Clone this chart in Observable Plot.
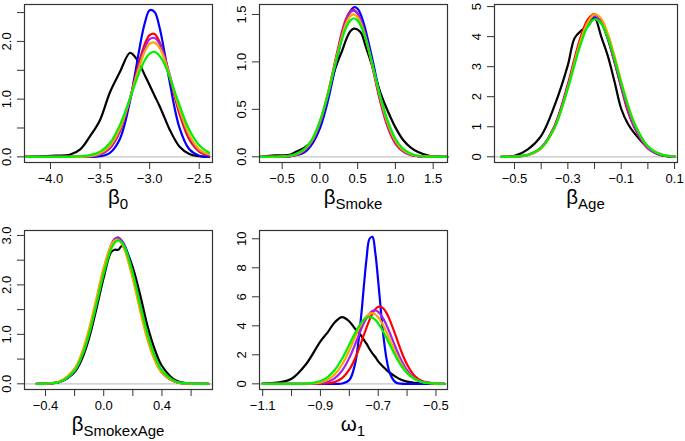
<!DOCTYPE html>
<html><head><meta charset="utf-8">
<script src="https://cdn.jsdelivr.net/npm/d3@7"></script>
<script src="https://cdn.jsdelivr.net/npm/@observablehq/plot@0.6"></script>
<style>
body{margin:0;background:#fff;}
#root{position:relative;width:685px;height:441px;overflow:hidden;background:#fff;font-family:"Liberation Sans",Arial,Helvetica,sans-serif;}
.title{position:absolute;width:220px;text-align:center;font-size:20.5px;line-height:15px;color:#000;white-space:nowrap;}
.title span{font-size:15px;position:relative;top:5px;}
</style></head><body><div id="root"></div>
<script>
// ---- series ----
const seriesNames = ["S1", "S2", "S3", "S4", "S5", "S6"];
const seriesColors = ["#000000", "#0000ff", "#ff0000", "#a020f0", "#ffa500", "#00f000"];

// ---- panel 1: beta_0 ----
const p1X      = [-4.25, -4.1, -3.95, -3.8, -3.7, -3.6, -3.5, -3.4, -3.3, -3.2, -3.15, -3.1, -3.05, -3.0, -2.95, -2.9, -2.85, -2.8, -2.7, -2.6, -2.5, -2.4];
const p1Black  = [0.00, 0.01, 0.02, 0.04, 0.13, 0.36, 0.64, 1.12, 1.47, 1.80, 1.74, 1.60, 1.42, 1.24, 1.06, 0.88, 0.68, 0.48, 0.18, 0.05, 0.01, 0.00];
const p1Blue   = [0, 0, 0, 0, 0, 0, 0.01, 0.07, 0.31, 0.95, 1.41, 1.90, 2.31, 2.54, 2.51, 2.24, 1.81, 1.32, 0.51, 0.13, 0.02, 0.00];
const p1Red    = [0, 0, 0, 0, 0, 0.01, 0.04, 0.15, 0.44, 1.00, 1.34, 1.68, 1.95, 2.11, 2.13, 1.99, 1.74, 1.41, 0.75, 0.30, 0.09, 0.02];
const p1Purple = [0, 0, 0, 0, 0, 0.01, 0.04, 0.16, 0.46, 0.99, 1.31, 1.62, 1.88, 2.04, 2.06, 1.96, 1.73, 1.44, 0.81, 0.35, 0.11, 0.03];
const p1Orange = [0, 0, 0, 0, 0, 0.01, 0.06, 0.19, 0.49, 1.00, 1.30, 1.58, 1.82, 1.96, 1.98, 1.89, 1.69, 1.42, 0.83, 0.38, 0.13, 0.04];
const p1Green  = [0, 0, 0, 0, 0.01, 0.03, 0.09, 0.24, 0.55, 1.00, 1.25, 1.48, 1.67, 1.79, 1.82, 1.75, 1.61, 1.39, 0.90, 0.47, 0.20, 0.07];
const p1XTicks = [-4, -3.5, -3, -2.5];
const p1XLabels = [-4, -3.5, -3, -2.5];
const p1YTicks = [0, 0.5, 1, 1.5, 2, 2.5];
const p1YLabels = [0, 1, 2];

// ---- panel 2: beta_Smoke ----
const p2X      = [-0.79, -0.6, -0.5, -0.4, -0.3, -0.2, -0.1, 0.0, 0.1, 0.2, 0.3, 0.35, 0.4, 0.45, 0.5, 0.55, 0.6, 0.7, 0.8, 0.9, 1.0, 1.1, 1.2, 1.3, 1.45, 1.69];
const p2Black  = [0.00, 0.015, 0.015, 0.02, 0.06, 0.10, 0.17, 0.36, 0.62, 0.92, 1.13, 1.24, 1.32, 1.35, 1.34, 1.30, 1.18, 0.94, 0.68, 0.48, 0.31, 0.18, 0.10, 0.05, 0.01, 0.00];
const p2Blue   = [0, 0, 0.001, 0.005, 0.02, 0.05, 0.14, 0.30, 0.57, 0.93, 1.29, 1.44, 1.53, 1.576, 1.56, 1.48, 1.35, 1.01, 0.64, 0.35, 0.16, 0.064, 0.022, 0.006, 0.001, 0];
const p2Red    = [0, 0, 0.002, 0.007, 0.025, 0.07, 0.17, 0.36, 0.65, 1.00, 1.34, 1.46, 1.53, 1.55, 1.51, 1.41, 1.28, 0.93, 0.58, 0.31, 0.14, 0.057, 0.02, 0.006, 0.001, 0];
const p2Purple = [0, 0, 0.002, 0.008, 0.025, 0.07, 0.17, 0.35, 0.63, 0.98, 1.32, 1.44, 1.52, 1.54, 1.51, 1.42, 1.29, 0.95, 0.60, 0.33, 0.155, 0.063, 0.022, 0.007, 0.001, 0];
const p2Orange = [0, 0, 0.003, 0.01, 0.03, 0.08, 0.18, 0.37, 0.65, 0.98, 1.29, 1.41, 1.48, 1.50, 1.47, 1.39, 1.27, 0.95, 0.62, 0.35, 0.17, 0.072, 0.027, 0.009, 0.001, 0];
const p2Green  = [0, 0.001, 0.003, 0.011, 0.034, 0.086, 0.19, 0.375, 0.64, 0.96, 1.26, 1.365, 1.435, 1.46, 1.435, 1.365, 1.26, 0.96, 0.64, 0.375, 0.19, 0.086, 0.034, 0.011, 0.002, 0];
const p2XTicks = [-0.5, 0, 0.5, 1, 1.5];
const p2XLabels = [-0.5, 0, 0.5, 1, 1.5];
const p2YTicks = [0, 0.5, 1, 1.5];
const p2YLabels = [0, 0.5, 1, 1.5];

// ---- panel 3: beta_Age ----
const p3X      = [-0.55, -0.5, -0.45, -0.4, -0.35, -0.3, -0.275, -0.25, -0.225, -0.2, -0.175, -0.15, -0.125, -0.1, -0.075, -0.05, 0.0, 0.05, 0.1];
const p3Black  = [0.0, 0.03, 0.25, 0.70, 1.70, 3.05, 3.95, 4.20, 4.35, 4.62, 4.00, 3.35, 2.50, 1.60, 1.10, 0.78, 0.30, 0.05, 0.01];
const p3Blue   = [0.0, 0.01, 0.06, 0.30, 1.00, 2.35, 3.17, 3.92, 4.46, 4.66, 4.46, 3.92, 3.17, 2.35, 1.58, 1.00, 0.30, 0.06, 0.01];
const p3Red    = [0.0, 0.01, 0.07, 0.31, 1.03, 2.42, 3.27, 4.04, 4.57, 4.75, 4.51, 3.93, 3.15, 2.31, 1.50, 0.96, 0.28, 0.06, 0.01];
const p3Purple = [0.0, 0.01, 0.06, 0.29, 0.99, 2.35, 3.18, 3.94, 4.49, 4.69, 4.49, 3.94, 3.18, 2.35, 1.59, 0.99, 0.29, 0.06, 0.01];
const p3Orange = [0.0, 0.01, 0.06, 0.28, 0.96, 2.30, 3.15, 3.93, 4.48, 4.74, 4.60, 4.09, 3.35, 2.51, 1.74, 1.10, 0.34, 0.08, 0.01];
const p3Green  = [0.0, 0.01, 0.07, 0.30, 0.97, 2.27, 3.06, 3.80, 4.35, 4.58, 4.44, 3.96, 3.25, 2.46, 1.71, 1.10, 0.35, 0.08, 0.014];
const p3XTicks = [-0.5, -0.4, -0.3, -0.2, -0.1, 0, 0.1];
const p3XLabels = [-0.5, -0.3, -0.1, 0.1];
const p3YTicks = [0, 1, 2, 3, 4, 5];
const p3YLabels = [0, 1, 2, 3, 4, 5];

// ---- panel 4: beta_SmokexAge ----
const p4X      = [-0.46, -0.4, -0.3, -0.2, -0.15, -0.1, -0.05, 0.0, 0.05, 0.075, 0.1, 0.125, 0.15, 0.2, 0.25, 0.3, 0.35, 0.4, 0.5, 0.6, 0.72];
const p4Black  = [0.0, 0.005, 0.04, 0.24, 0.50, 0.93, 1.52, 2.15, 2.66, 2.71, 2.71, 2.79, 2.72, 2.35, 1.80, 1.18, 0.70, 0.36, 0.06, 0.005, 0.0];
const p4Blue   = [0, 0.004, 0.04, 0.25, 0.55, 1.00, 1.61, 2.25, 2.76, 2.89, 2.94, 2.89, 2.76, 2.25, 1.61, 1.00, 0.55, 0.25, 0.04, 0.003, 0];
const p4Red    = [0, 0.004, 0.04, 0.27, 0.57, 1.04, 1.65, 2.29, 2.77, 2.90, 2.93, 2.86, 2.70, 2.17, 1.53, 0.94, 0.50, 0.23, 0.03, 0.003, 0];
const p4Purple = [0, 0.004, 0.04, 0.27, 0.57, 1.04, 1.66, 2.31, 2.80, 2.93, 2.96, 2.89, 2.72, 2.19, 1.53, 0.94, 0.50, 0.23, 0.03, 0.003, 0];
const p4Orange = [0, 0.005, 0.05, 0.31, 0.63, 1.12, 1.73, 2.35, 2.80, 2.90, 2.91, 2.83, 2.65, 2.12, 1.48, 0.90, 0.48, 0.23, 0.03, 0.003, 0];
const p4Green  = [0, 0.004, 0.04, 0.27, 0.56, 1.01, 1.61, 2.23, 2.72, 2.85, 2.90, 2.85, 2.72, 2.23, 1.61, 1.01, 0.56, 0.27, 0.04, 0.004, 0];
const p4XTicks = [-0.4, -0.2, 0, 0.2, 0.4, 0.6];
const p4XLabels = [-0.4, 0, 0.4];
const p4YTicks = [0, 0.5, 1, 1.5, 2, 2.5, 3];
const p4YLabels = [0, 1, 2, 3];

// ---- panel 5: omega_1 ----
const p5X      = [-1.1, -1.05, -1.0, -0.95, -0.9, -0.875, -0.85, -0.825, -0.8, -0.78, -0.76, -0.75, -0.74, -0.73, -0.72, -0.71, -0.70, -0.69, -0.68, -0.67, -0.66, -0.64, -0.62, -0.6, -0.575, -0.55, -0.5, -0.47];
const p5Black  = [0.02, 0.08, 0.35, 1.35, 2.93, 3.55, 4.25, 4.60, 4.30, 3.80, 3.35, 3.05, 2.75, 2.40, 2.10, 1.85, 1.55, 1.33, 1.12, 0.93, 0.77, 0.50, 0.28, 0.15, 0.07, 0.03, 0.0, 0.0];
const p5Blue   = [0, 0, 0, 0, 0, 0, 0, 0.02, 0.26, 1.38, 4.47, 6.65, 8.69, 10.0, 10.13, 9.03, 7.09, 4.90, 2.98, 1.59, 0.75, 0.11, 0.01, 0, 0, 0, 0, 0];
const p5Red    = [0, 0, 0, 0, 0.01, 0.04, 0.13, 0.40, 0.98, 1.75, 2.78, 3.35, 3.90, 4.41, 4.84, 5.15, 5.31, 5.31, 5.15, 4.84, 4.41, 3.35, 2.24, 1.33, 0.58, 0.21, 0.02, 0.0];
const p5Purple = [0, 0, 0, 0, 0.04, 0.14, 0.39, 0.91, 1.79, 2.72, 3.71, 4.17, 4.55, 4.84, 5.02, 5.06, 4.96, 4.74, 4.41, 3.99, 3.52, 2.52, 1.62, 0.94, 0.41, 0.15, 0.01, 0.0];
const p5Orange = [0, 0, 0, 0.01, 0.10, 0.28, 0.66, 1.33, 2.32, 3.23, 4.08, 4.43, 4.68, 4.83, 4.87, 4.79, 4.59, 4.30, 3.93, 3.50, 3.05, 2.14, 1.37, 0.79, 0.35, 0.13, 0.01, 0.0];
const p5Green  = [0, 0, 0, 0.02, 0.20, 0.47, 0.97, 1.73, 2.71, 3.51, 4.17, 4.41, 4.55, 4.60, 4.55, 4.41, 4.17, 3.87, 3.51, 3.12, 2.71, 1.92, 1.24, 0.74, 0.34, 0.14, 0.015, 0.0];
const p5XTicks = [-1.1, -1.0, -0.9, -0.8, -0.7, -0.6, -0.5];
const p5XLabels = [-1.1, -0.9, -0.7, -0.5];
const p5YTicks = [0, 2, 4, 6, 8, 10];
const p5YLabels = [0, 2, 4, 6, 8, 10];

// ---- axis titles ----
const titleMain = ["β", "β", "β", "β", "ω"];
const titleSub  = ["0", "Smoke", "Age", "SmokexAge", "1"];

// ---- rendering ----
const FONT = '"Liberation Sans", Arial, Helvetica, sans-serif';
const fmt1 = d => (d < 0 ? "\u2212" : "") + Math.abs(d).toFixed(1);
const fmt0 = d => (d < 0 ? "\u2212" : "") + Math.abs(d).toFixed(0);
const root = document.getElementById("root");

function drawPanel(cfg) {
  const rows = [];
  cfg.ys.forEach((arr, i) => arr.forEach((v, j) => rows.push({x: cfg.x[j], y: v, s: seriesNames[i]})));
  const [L, R, T, B] = cfg.box;
  const mL = Math.min(32, L), mR = 6, mT = 4, mB = 30;
  const svg = Plot.plot({
    width: R - L + mL + mR, height: B - T + mT + mB,
    marginLeft: mL, marginRight: mR, marginTop: mT, marginBottom: mB,
    x: {domain: cfg.xDomain, label: null},
    y: {domain: cfg.yDomain, label: null},
    color: {domain: seriesNames, range: seriesColors},
    style: {fontFamily: FONT, fontSize: "13px", color: "#000", background: "transparent", overflow: "visible", maxWidth: "none"},
    marks: [
      Plot.ruleY([0], {stroke: "#c4c4c4", strokeWidth: 1.2}),
      Plot.line(rows, {x: "x", y: "y", z: "s", stroke: "s", strokeWidth: 2.2, curve: "catmull-rom"}),
      Plot.frame({stroke: "#333", strokeWidth: 1.2}),
      Plot.axisX({ticks: cfg.xTicks, tickSize: 7, tickPadding: 4, label: null, stroke: "#333",
                  tickFormat: d => cfg.xLabels.includes(d) ? cfg.xFmt(d) : ""}),
      Plot.axisY({ticks: cfg.yTicks, tickSize: 7, label: null, stroke: "#333", tickFormat: () => ""}),
      Plot.text(cfg.yLabels, {y: d => d, text: d => cfg.yFmt(d), frameAnchor: "left", dx: -18, rotate: -90,
                              textAnchor: "middle", lineAnchor: "middle", fill: "#000", fontSize: 13})
    ]
  });
  svg.style.position = "absolute";
  svg.style.left = (L - mL) + "px";
  svg.style.top = (T - mT) + "px";
  root.appendChild(svg);
  const t = document.createElement("div");
  t.className = "title";
  t.style.left = ((L + R) / 2 - 110) + "px";
  t.style.top = (cfg.titleBaseline - 15) + "px";
  t.innerHTML = titleMain[cfg.idx] + "<span>" + titleSub[cfg.idx] + "</span>";
  root.appendChild(t);
}

drawPanel({idx: 0, box: [24, 212, 4, 162], x: p1X, ys: [p1Black, p1Blue, p1Red, p1Purple, p1Orange, p1Green],
  xDomain: [-4.262, -2.366], yDomain: [-0.098, 2.64], xTicks: p1XTicks, xLabels: p1XLabels, xFmt: fmt1,
  yTicks: p1YTicks, yLabels: p1YLabels, yFmt: fmt1, titleBaseline: 204});
drawPanel({idx: 1, box: [259, 447, 4, 162], x: p2X, ys: [p2Black, p2Blue, p2Red, p2Purple, p2Orange, p2Green],
  xDomain: [-0.80, 1.69], yDomain: [-0.06, 1.605], xTicks: p2XTicks, xLabels: p2XLabels, xFmt: fmt1,
  yTicks: p2YTicks, yLabels: p2YLabels, yFmt: fmt1, titleBaseline: 204});
drawPanel({idx: 2, box: [494, 677, 4, 162], x: p3X, ys: [p3Black, p3Blue, p3Red, p3Purple, p3Orange, p3Green],
  xDomain: [-0.575, 0.111], yDomain: [-0.19, 5.07], xTicks: p3XTicks, xLabels: p3XLabels, xFmt: fmt1,
  yTicks: p3YTicks, yLabels: p3YLabels, yFmt: fmt0, titleBaseline: 204});
drawPanel({idx: 3, box: [24, 212, 230, 389], x: p4X, ys: [p4Black, p4Blue, p4Red, p4Purple, p4Orange, p4Green],
  xDomain: [-0.544, 0.747], yDomain: [-0.115, 3.10], xTicks: p4XTicks, xLabels: p4XLabels, xFmt: fmt1,
  yTicks: p4YTicks, yLabels: p4YLabels, yFmt: fmt1, titleBaseline: 431});
drawPanel({idx: 4, box: [259, 447, 230, 389], x: p5X, ys: [p5Black, p5Blue, p5Red, p5Purple, p5Orange, p5Green],
  xDomain: [-1.111, -0.46], yDomain: [-0.39, 10.57], xTicks: p5XTicks, xLabels: p5XLabels, xFmt: fmt1,
  yTicks: p5YTicks, yLabels: p5YLabels, yFmt: fmt0, titleBaseline: 431});
</script>
</body></html>
